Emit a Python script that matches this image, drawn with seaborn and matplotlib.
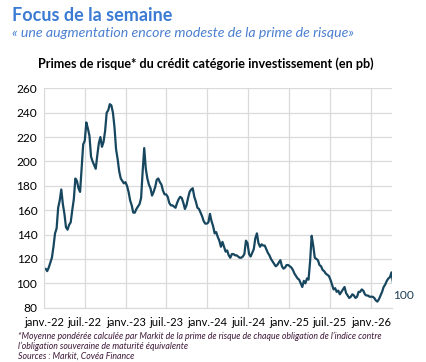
import pandas as pd
import matplotlib.pyplot as plt
import seaborn as sns

# Données hebdomadaires (prime de risque IG, en pb)
start_date = "2022-01-07"
spread_pb = [
    112, 110, 113, 117, 121, 130, 141, 145, 162, 168,
    177, 165, 157, 146, 144, 148, 150, 160, 169, 186,
    184, 178, 175, 195, 214, 217, 232, 227, 221, 204,
    200, 197, 194, 205, 215, 220, 212, 216, 225, 240,
    242, 247, 246, 240, 228, 210, 202, 192, 186, 184,
    182, 183, 180, 175, 168, 164, 158, 158, 161, 163,
    165, 170, 192, 211, 194, 186, 181, 178, 172, 175,
    179, 185, 186, 183, 181, 176, 173, 173, 171, 166,
    164, 164, 163, 162, 166, 169, 171, 170, 166, 161,
    164, 170, 175, 177, 178, 171, 167, 162, 161, 158,
    155, 151, 149, 149, 150, 157, 151, 147, 141, 142,
    138, 135, 130, 134, 130, 126, 127, 123, 121, 124,
    124, 123, 123, 122, 121, 121, 122, 124, 135, 133,
    124, 122, 125, 128, 137, 141, 133, 130, 132, 131,
    131, 128, 125, 123, 120, 118, 116, 114, 115, 117,
    119, 114, 112, 113, 115, 115, 114, 113, 111, 108,
    106, 104, 103, 100, 97, 102, 100, 104, 103, 118,
    139, 131, 121, 120, 119, 115, 114, 111, 110, 108,
    107, 106, 103, 99, 95, 96, 93, 94, 91, 93,
    95, 97, 92, 90, 88, 89, 91, 90, 88, 89,
    93, 93, 95, 94, 91, 90, 90, 89, 89, 89,
    88, 86, 85, 87, 90, 93, 97, 99, 102, 104,
    105, 109, 100,
]
tick_dates = ["2022-01-01", "2022-07-01", "2023-01-01", "2023-07-01", "2024-01-01",
              "2024-07-01", "2025-01-01", "2025-07-01", "2026-01-01"]
tick_labels = ["janv.-22", "juil.-22", "janv.-23", "juil.-23", "janv.-24",
               "juil.-24", "janv.-25", "juil.-25", "janv.-26"]
y_ticks = [80, 100, 120, 140, 160, 180, 200, 220, 240, 260]

foot_lines = [
    "*Moyenne pondérée calculée par Markit de la prime de risque de chaque obligation de l’indice contre",
    "l’obligation souveraine de maturité équivalente",
    "Sources : Markit, Covéa Finance",
]

df = pd.DataFrame({
    "date": pd.date_range(start_date, periods=len(spread_pb), freq="7D"),
    "spread": spread_pb,
})

sns.set_style("white")
plt.rcParams["font.family"] = ["Lato", "DejaVu Sans"]

fig = plt.figure(figsize=(4.26, 3.62), dpi=100)
ax = fig.add_axes([0.104, 0.150, 0.816, 0.606])

sns.lineplot(data=df, x="date", y="spread", color="#17465f", linewidth=1.6, ax=ax)

ax.set_xlim(pd.Timestamp("2022-01-01"), pd.Timestamp("2026-04-05"))
ax.set_ylim(80, 260)
ax.set_yticks(y_ticks)
ax.set_xticks(pd.to_datetime(tick_dates))
ax.set_xticklabels(tick_labels)
ax.grid(True, color="#dadada", linewidth=0.9)
ax.set_axisbelow(True)
for side in ["top", "right"]:
    ax.spines[side].set_visible(False)
ax.spines["left"].set_color("#dadada")
ax.spines["bottom"].set_color("#dadada")
ax.tick_params(axis="y", labelsize=8.6, colors="black", length=0, pad=5)
ax.tick_params(axis="x", labelsize=8.0, colors="black", length=0, pad=6.5)
ax.set_xlabel("")
ax.set_ylabel("")

# Dernière valeur
last = df.iloc[-1]
ax.annotate(f"{last['spread']:.0f}", xy=(last["date"], last["spread"]),
            xytext=(0, -9), textcoords="offset points",
            fontsize=8.6, color="#1f3f55", va="center", ha="left",
            annotation_clip=False)

fig.text(0.028, 0.958, "Focus de la semaine", fontsize=13, fontweight="bold",
         color="#3b7bd4", va="center", ha="left")
fig.text(0.028, 0.908, "« une augmentation encore modeste de la prime de risque»",
         fontsize=10.2, fontstyle="italic", color="#4a7fd0", va="center", ha="left")
fig.text(0.482, 0.823, "Primes de risque* du crédit catégorie investissement (en pb)",
         fontsize=9.1, fontweight="bold", color="black", va="center", ha="center")

for i, line in enumerate(foot_lines):
    fig.text(0.042, 0.070 - i * 0.0275, line, fontsize=6.3, fontstyle="italic",
             color="#3d1838", va="center", ha="left")

fig.savefig("out.png", dpi=100)
plt.close(fig)
